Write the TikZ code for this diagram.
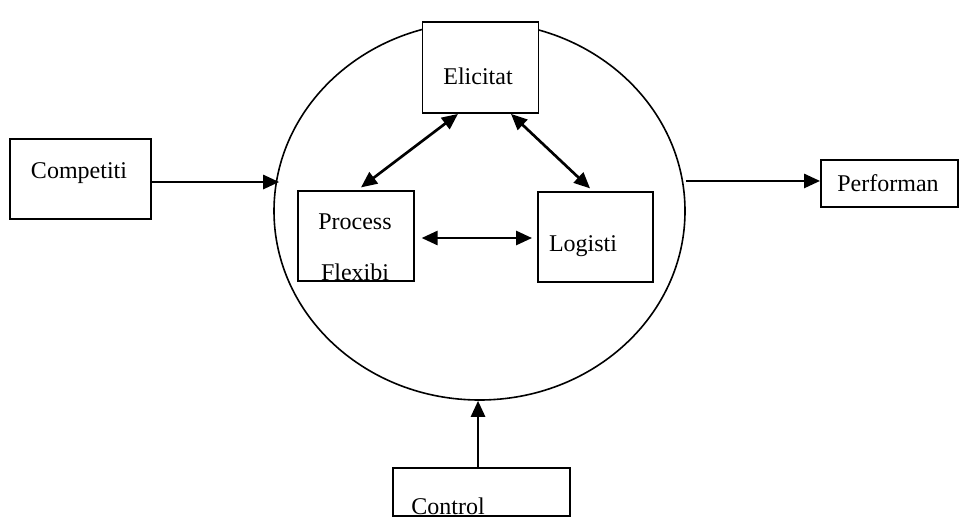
\documentclass[tikz,border=0pt]{standalone}
\usepackage{fontspec}
\setmainfont{Liberation Serif}
\usetikzlibrary{arrows.meta,positioning,calc,shapes.geometric}

\begin{document}
\begin{tikzpicture}[
  x=0.75pt, y=-0.75pt,
  box/.style={draw, fill=white, line width=1.4pt, inner sep=0pt},
  txt/.style={font=\fontsize{18}{22}\selectfont, inner sep=0pt},
  arr/.style={-{Triangle[length=12pt,width=10.5pt]}, line width=2pt},
  darr/.style={{Triangle[length=12pt,width=10.5pt]}-{Triangle[length=12pt,width=10.5pt]}, line width=2pt}
]
\useasboundingbox (0,0) rectangle (959,518);

% Centre: the circle with its three boxes
\node[draw, ellipse, line width=1.2pt, minimum width=308.25pt, minimum height=283.5pt] (circ) at (479.5,211) {};
\node[box, minimum width=87pt, minimum height=68.25pt] (elic) at (480.5,67.5) {};
\node[txt] (elictxt) at (478,76) {Elicitat};
\node[box, minimum width=87pt, minimum height=67.5pt] (proc) at (356,236) {};
\node[txt] (proctxt) at (355,222) {Process};
\begin{scope}
  \clip (proc.north west) rectangle ([yshift=0.7pt]proc.south east);
  \node[txt] (flextxt) at (355,272) {Flexibi};
\end{scope}
\node[box, minimum width=86.25pt, minimum height=67.5pt] (logi) at (595.5,237) {};
\node[txt] (logitxt) at (583,246) {Logisti};

% Outside boxes
\node[box, minimum width=105.75pt, minimum height=60pt] (comp) at (80.5,179) {};
\node[txt] (comptxt) at (79,173) {Competiti};
\node[box, minimum width=102.75pt, minimum height=35.25pt] (perf) at (889.5,183.5) {};
\node[txt] (perftxt) at (888,183) {Performan};
\node[box, minimum width=132.75pt, minimum height=36pt] (ctrl) at (481.5,492) {};
\begin{scope}
  \clip (ctrl.north west) rectangle ([yshift=0.7pt]ctrl.south east);
  \node[txt] (ctrltxt) at (448,506) {Control};
\end{scope}

% Links inside the circle
\draw[darr] ([xshift=-16.9pt]elic.south) -- ([xshift=3.75pt,yshift=2pt]proc.north);
\draw[darr] ([xshift=22.9pt]elic.south) -- ([xshift=-4.1pt,yshift=2pt]logi.north);
\draw[darr, shorten <=5pt, shorten >=3.75pt] ([yshift=-1.5pt]proc.east) -- ([yshift=-1.5pt]proc.east -| logi.west);

% Links to and from the circle
\draw[arr] ([yshift=-2.25pt]comp.east) -- ([xshift=4.5pt,yshift=-2.25pt]comp.east -| circ.west);
\draw[arr] ([yshift=1.9pt]perf.west -| circ.east) -- ([yshift=1.9pt]perf.west);
\draw[arr] ([xshift=-2.6pt]ctrl.north) -- ([xshift=-2.6pt]ctrl.north |- circ.south);

\end{tikzpicture}
\end{document}
